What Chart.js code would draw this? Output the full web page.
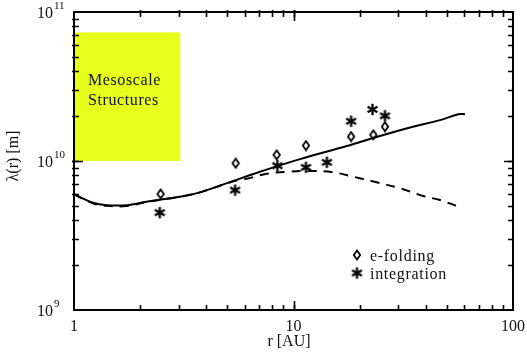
<!DOCTYPE html>
<html>
<head>
<meta charset="utf-8">
<script src="https://cdn.jsdelivr.net/npm/chart.js@4/dist/chart.umd.min.js"></script>
<style>
html,body{margin:0;padding:0;background:#fff;}
#wrap{width:527px;height:356px;position:relative;}
</style>
</head>
<body>
<div id="wrap"><canvas id="c" width="527" height="356"></canvas></div>
<script>
// ---- data ----
const solidR = [1, 1.22, 1.41, 1.74, 2.14, 3.04, 3.75, 5.32, 7.04, 10.7, 17.5, 23.9, 34, 46.5, 56.3, 60.4];
const solidL = [5.98e9, 5.25e9, 5.05e9, 5.05e9, 5.33e9, 5.76e9, 6.16e9, 7.35e9, 8.47e9, 1.03e10, 1.26e10, 1.45e10, 1.68e10, 1.88e10, 2.06e10, 2.06e10];
const dashR = [1, 1.22, 1.41, 1.74, 2.14, 3.04, 3.75, 5.32, 6.12, 7.55, 9.31, 12.3, 15.2, 18.7, 23.9, 30.6, 39, 46.5, 55.4];
const dashL = [5.98e9, 5.2e9, 5.0e9, 4.98e9, 5.3e9, 5.76e9, 6.16e9, 7.3e9, 7.6e9, 8.2e9, 8.47e9, 8.57e9, 8.4e9, 7.85e9, 7.2e9, 6.56e9, 5.82e9, 5.47e9, 4.99e9];
const efoldR = [2.48, 5.45, 8.38, 11.4, 18.3, 23.1, 26.1];
const efoldL = [6.01e9, 9.66e9, 1.1e10, 1.27e10, 1.46e10, 1.5e10, 1.7e10];
const integR = [2.46, 5.42, 8.44, 11.4, 14.2, 18.3, 22.9, 26.1];
const integL = [4.5e9, 6.38e9, 9.3e9, 9.07e9, 9.8e9, 1.85e10, 2.22e10, 2.01e10];
const xTickValues = [1, 10, 100];
const xTickLabels = ['1', '10', '100'];
const yTickValues = [1e9, 1e10, 1e11];
const yTickExponents = ['9', '10', '11'];
const mesoR = [1, 3.05];
const mesoL = [1e10, 7.3e10];
const mesoText = ['Mesoscale', 'Structures'];
const legendLabels = ['e-folding', 'integration'];
const xTitle = 'r [AU]';
const yTitle = 'λ(r) [m]';

const pts = (xs, ys) => xs.map((x, i) => ({x: x, y: ys[i]}));

// ---- marker images ----
function makeDiamond() {
  const c = document.createElement('canvas');
  c.width = 10; c.height = 12;
  const g = c.getContext('2d');
  g.beginPath();
  g.moveTo(5, 1.5); g.lineTo(8.2, 6); g.lineTo(5, 10.5); g.lineTo(1.8, 6); g.closePath();
  g.fillStyle = '#fff'; g.fill();
  g.lineWidth = 1.8; g.strokeStyle = '#000'; g.stroke();
  return c;
}
function makeStar() {
  const c = document.createElement('canvas');
  c.width = 15; c.height = 15;
  const g = c.getContext('2d');
  g.strokeStyle = '#000'; g.lineWidth = 2.3; g.lineCap = 'butt';
  const r = 5.7;
  for (let k = 0; k < 3; k++) {
    const a = Math.PI / 2 + k * Math.PI / 3;
    g.beginPath();
    g.moveTo(7.5 + r * Math.cos(a), 7.5 + r * Math.sin(a));
    g.lineTo(7.5 - r * Math.cos(a), 7.5 - r * Math.sin(a));
    g.stroke();
  }
  return c;
}
const diamondImg = makeDiamond();
const starImg = makeStar();

const SERIF = '"Liberation Serif", "Times New Roman", serif';

const framePlugin = {
  id: 'frame',
  beforeDatasetsDraw(chart) {
    const ctx = chart.ctx, xs = chart.scales.x, ys = chart.scales.y;
    const x0 = xs.getPixelForValue(mesoR[0]), x1 = xs.getPixelForValue(mesoR[1]);
    const y0 = ys.getPixelForValue(mesoL[1]), y1 = ys.getPixelForValue(mesoL[0]);
    ctx.save();
    ctx.fillStyle = 'rgb(230,255,28)';
    ctx.fillRect(x0, y0, x1 - x0, y1 - y0);
    ctx.fillStyle = '#111';
    ctx.font = '16px ' + SERIF;
    ctx.letterSpacing = '0.6px';
    ctx.textBaseline = 'alphabetic';
    ctx.textAlign = 'left';
    ctx.fillText(mesoText[0], x0 + 14, y0 + 53);
    ctx.fillText(mesoText[1], x0 + 14, y0 + 73);
    ctx.restore();
  },
  afterDatasetsDraw(chart) {
    const ctx = chart.ctx, xs = chart.scales.x, ys = chart.scales.y;
    const a = chart.chartArea;
    ctx.save();
    ctx.strokeStyle = '#000';
    ctx.lineWidth = 2;
    ctx.strokeRect(a.left, a.top, a.right - a.left, a.bottom - a.top);
    ctx.lineWidth = 1.6;
    for (let d = 1; d < 100; d *= 10) {
      for (let m = 1; m <= 10; m++) {
        const v = d * m;
        if (v <= 1 || v >= 100) continue;
        const px = Math.round(xs.getPixelForValue(v)) + 0.5;
        const len = (m === 10) ? 9 : 5;
        ctx.beginPath();
        ctx.moveTo(px, a.bottom); ctx.lineTo(px, a.bottom - len);
        ctx.moveTo(px, a.top - 2); ctx.lineTo(px, a.top + len);
        ctx.stroke();
      }
    }
    for (let d = 1e9; d < 1e11; d *= 10) {
      for (let m = 1; m <= 10; m++) {
        const v = d * m;
        if (v <= 1e9 * 1.0001 || v >= 1e11 * 0.9999) continue;
        const py = Math.round(ys.getPixelForValue(v)) + 0.5;
        const len = (m === 10) ? 9 : 5;
        ctx.beginPath();
        ctx.moveTo(a.left - 2, py); ctx.lineTo(a.left + len, py);
        ctx.moveTo(a.right, py); ctx.lineTo(a.right - len, py);
        ctx.stroke();
      }
    }
    ctx.fillStyle = '#111';
    ctx.font = '16px ' + SERIF;
    ctx.textAlign = 'center';
    ctx.textBaseline = 'alphabetic';
    xTickValues.forEach((v, i) => {
      ctx.fillText(xTickLabels[i], xs.getPixelForValue(v), a.bottom + 21);
    });
    yTickValues.forEach((v, i) => {
      const py = ys.getPixelForValue(v);
      ctx.font = '16px ' + SERIF;
      ctx.textAlign = 'right';
      ctx.fillText('10', 53, py + 6);
      ctx.font = '11px ' + SERIF;
      ctx.textAlign = 'left';
      ctx.fillText(yTickExponents[i], 54, py - 3);
    });
    ctx.font = '16px ' + SERIF;
    ctx.textAlign = 'center';
    ctx.fillText(xTitle, 289, 346);
    ctx.save();
    ctx.translate(18, 156);
    ctx.rotate(-Math.PI / 2);
    ctx.font = '16px ' + SERIF;
    ctx.fillText(yTitle, 0, 0);
    ctx.restore();
    ctx.font = '16px ' + SERIF;
    ctx.letterSpacing = '0.7px';
    ctx.textAlign = 'left';
    ctx.drawImage(diamondImg, 357 - 5, 255 - 6);
    ctx.fillText(legendLabels[0], 370, 261);
    ctx.drawImage(starImg, 357 - 7.5, 273 - 7.5);
    ctx.fillText(legendLabels[1], 370, 279);
    ctx.restore();
  }
};

new Chart(document.getElementById('c'), {
  type: 'line',
  data: {
    datasets: [
      {label: 'solid', data: pts(solidR, solidL), borderColor: '#000', borderWidth: 2, pointRadius: 0, tension: 0.35, fill: false},
      {label: 'dashed', data: pts(dashR, dashL), borderColor: '#000', borderWidth: 2, borderDash: [9, 7], pointRadius: 0, tension: 0.35, fill: false},
      {label: 'e-folding', data: pts(efoldR, efoldL), showLine: false, pointStyle: diamondImg, pointRadius: 5, borderColor: '#000'},
      {label: 'integration', data: pts(integR, integL), showLine: false, pointStyle: starImg, pointRadius: 6, borderColor: '#000'}
    ]
  },
  options: {
    responsive: false,
    animation: false,
    devicePixelRatio: 1,
    layout: {padding: {left: 74, top: 12, right: 14, bottom: 46}},
    plugins: {legend: {display: false}, tooltip: {enabled: false}},
    scales: {
      x: {type: 'logarithmic', min: 1, max: 100, display: false},
      y: {type: 'logarithmic', min: 1e9, max: 1e11, display: false}
    }
  },
  plugins: [framePlugin]
});
</script>
</body>
</html>
